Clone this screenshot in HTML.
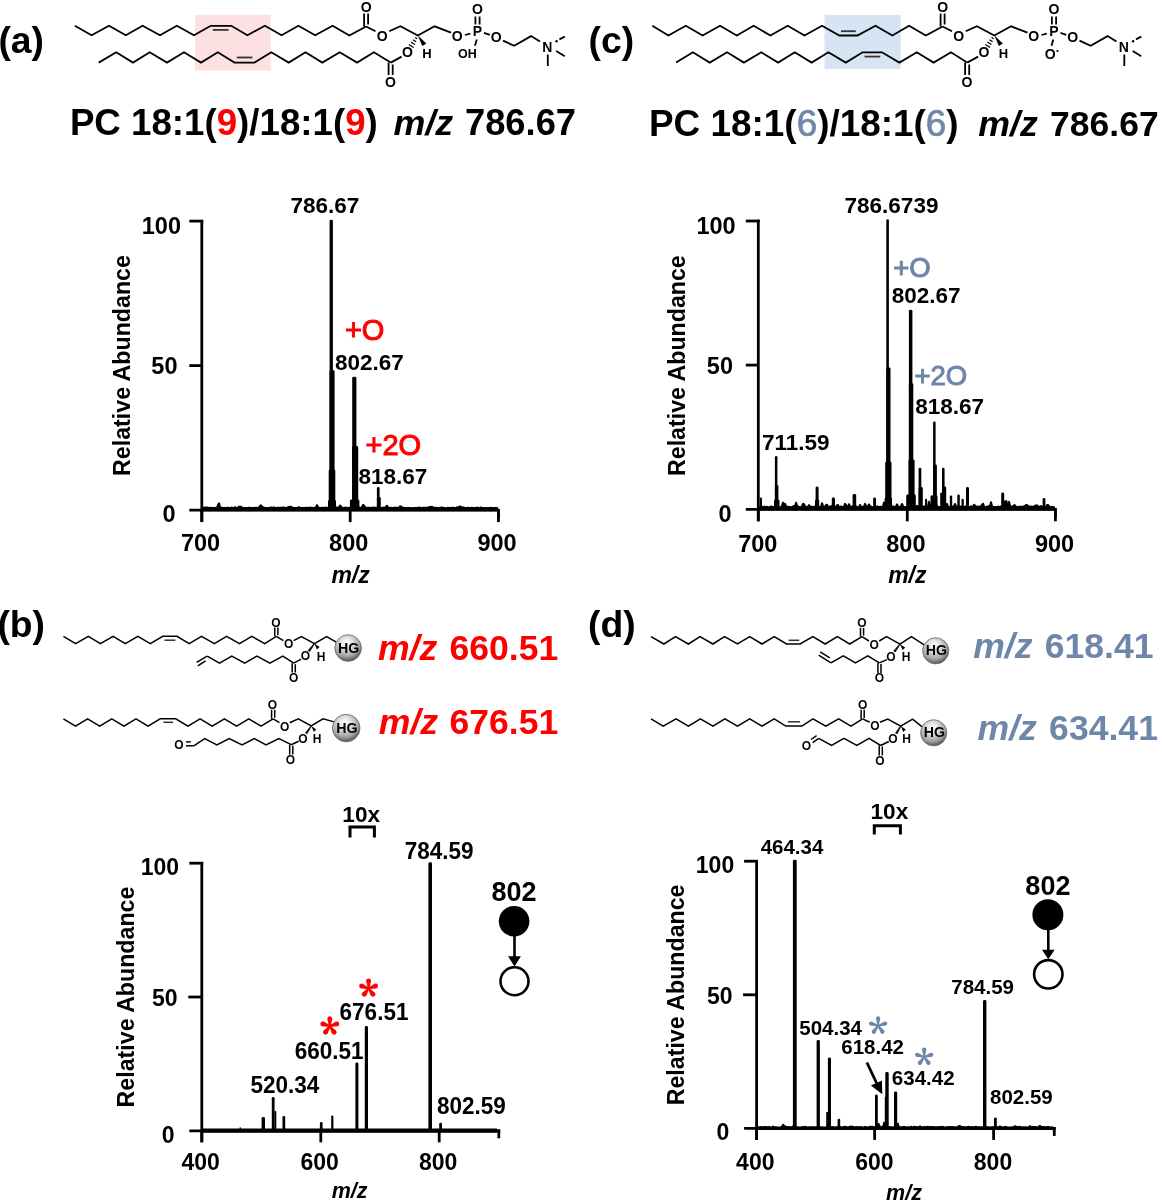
<!DOCTYPE html>
<html><head><meta charset="utf-8"><style>
html,body{margin:0;padding:0;background:#fff;}
svg{display:block;will-change:transform;}
text{font-family:"Liberation Sans",sans-serif;}
</style></head><body>
<svg width="1162" height="1200" viewBox="0 0 1162 1200">
<rect width="1162" height="1200" fill="#fff"/>
<text x="-1.6" y="53.4" font-size="37.3" text-anchor="start" font-weight="bold" font-style="normal" fill="#000" >(a)</text>
<text x="588.5" y="53.4" font-size="37.3" text-anchor="start" font-weight="bold" font-style="normal" fill="#000" >(c)</text>
<text x="-2.6" y="636.7" font-size="37.3" text-anchor="start" font-weight="bold" font-style="normal" fill="#000" >(b)</text>
<text x="588.0" y="636.7" font-size="37.3" text-anchor="start" font-weight="bold" font-style="normal" fill="#000" >(d)</text>
<rect x="195.0" y="14.8" width="75.7" height="55.9" fill="#fde0e1"/>
<polyline points="74.8,25.8 91.6,35.2 109.0,25.8 125.8,35.2 142.6,25.8 160.0,35.2 176.8,25.8 194.0,35.2 210.7,25.8 231.3,25.8 247.4,35.2 264.9,25.8 281.6,35.2 298.4,25.8 315.2,35.2 332.6,25.8 349.4,35.5 366.1,26.5" fill="none" stroke="#000" stroke-width="1.8" stroke-linejoin="miter" stroke-linecap="butt" />
<line x1="212.8" y1="29.9" x2="228.6" y2="29.9" stroke="#3a3232" stroke-width="1.8" stroke-linecap="butt"/>
<polyline points="98.7,62.6 116.2,52.3 133.0,62.6 149.7,52.3 167.0,62.6 184.0,52.3 201.0,62.6 217.8,52.3 234.5,62.6 254.5,62.6 271.3,52.3 288.7,62.6 305.5,52.3 322.3,62.6 339.7,52.3 357.1,62.6 373.9,52.3 390.7,62.6" fill="none" stroke="#000" stroke-width="1.8" stroke-linejoin="miter" stroke-linecap="butt" />
<line x1="236.8" y1="57.5" x2="252.4" y2="57.5" stroke="#3a3232" stroke-width="1.8" stroke-linecap="butt"/>
<line x1="364.1" y1="13.5" x2="364.1" y2="26.5" stroke="#000" stroke-width="1.8" stroke-linecap="butt"/>
<line x1="368.1" y1="13.5" x2="368.1" y2="24.5" stroke="#000" stroke-width="1.8" stroke-linecap="butt"/>
<text x="366.1" y="11.7" font-size="14" text-anchor="middle" font-weight="bold" font-style="normal" fill="#000" >O</text>
<line x1="366.1" y1="26.5" x2="375.5" y2="31.3" stroke="#000" stroke-width="1.8" stroke-linecap="butt"/>
<text x="382.3" y="40.7" font-size="14" text-anchor="middle" font-weight="bold" font-style="normal" fill="#000" >O</text>
<polyline points="389.2,31.3 400.4,26.3 417.8,35.5 434.6,26.3 451.0,32.6" fill="none" stroke="#000" stroke-width="1.8" stroke-linejoin="miter" stroke-linecap="butt" />
<text x="457.1" y="41.2" font-size="14" text-anchor="middle" font-weight="bold" font-style="normal" fill="#000" >O</text>
<line x1="464.9" y1="35.0" x2="470.3" y2="33.6" stroke="#000" stroke-width="1.8" stroke-linecap="butt"/>
<text x="477.4" y="36.2" font-size="14" text-anchor="middle" font-weight="bold" font-style="normal" fill="#000" >P</text>
<line x1="475.4" y1="16.5" x2="475.4" y2="24.5" stroke="#000" stroke-width="1.8" stroke-linecap="butt"/>
<line x1="479.6" y1="16.5" x2="479.6" y2="24.5" stroke="#000" stroke-width="1.8" stroke-linecap="butt"/>
<text x="477.4" y="14.1" font-size="14" text-anchor="middle" font-weight="bold" font-style="normal" fill="#000" >O</text>
<line x1="476.8" y1="39.4" x2="475.0" y2="45.8" stroke="#000" stroke-width="1.8" stroke-linecap="butt"/>
<text x="467.3" y="58.4" font-size="12.5" text-anchor="middle" font-weight="bold" font-style="normal" fill="#000" >OH</text>
<line x1="484.0" y1="32.8" x2="489.8" y2="34.8" stroke="#000" stroke-width="1.8" stroke-linecap="butt"/>
<text x="496.2" y="41.9" font-size="14" text-anchor="middle" font-weight="bold" font-style="normal" fill="#000" >O</text>
<polyline points="503.0,40.6 514.2,45.8 531.0,36.1 540.0,41.6" fill="none" stroke="#000" stroke-width="1.8" stroke-linejoin="miter" stroke-linecap="butt" />
<text x="547.3" y="52.2" font-size="14" text-anchor="middle" font-weight="bold" font-style="normal" fill="#000" >N</text>
<circle cx="556.6" cy="41.3" r="1.2" fill="#000"/>
<line x1="559.4" y1="39.4" x2="564.8" y2="36.6" stroke="#000" stroke-width="1.8" stroke-linecap="butt"/>
<line x1="556.2" y1="51.0" x2="564.8" y2="56.3" stroke="#000" stroke-width="1.8" stroke-linecap="butt"/>
<line x1="547.8" y1="54.5" x2="547.8" y2="66.0" stroke="#000" stroke-width="1.8" stroke-linecap="butt"/>
<polygon points="417.8,35.5 426.4,43.5 422.4,46.1" fill="#000"/>
<text x="427.0" y="57.5" font-size="13" text-anchor="middle" font-weight="bold" font-style="normal" fill="#000" >H</text>
<line x1="417.3" y1="38.8" x2="415.0" y2="37.4" stroke="#000" stroke-width="1.2" stroke-linecap="butt"/>
<line x1="416.1" y1="41.7" x2="413.0" y2="39.7" stroke="#000" stroke-width="1.2" stroke-linecap="butt"/>
<line x1="414.9" y1="44.6" x2="410.9" y2="42.0" stroke="#000" stroke-width="1.2" stroke-linecap="butt"/>
<line x1="413.7" y1="47.4" x2="408.8" y2="44.4" stroke="#000" stroke-width="1.2" stroke-linecap="butt"/>
<text x="407.5" y="57.4" font-size="14" text-anchor="middle" font-weight="bold" font-style="normal" fill="#000" >O</text>
<line x1="401.6" y1="56.6" x2="390.7" y2="62.6" stroke="#000" stroke-width="1.8" stroke-linecap="butt"/>
<line x1="388.6" y1="62.6" x2="388.6" y2="75.0" stroke="#000" stroke-width="1.8" stroke-linecap="butt"/>
<line x1="392.7" y1="64.5" x2="392.7" y2="75.0" stroke="#000" stroke-width="1.8" stroke-linecap="butt"/>
<text x="390.4" y="86.6" font-size="14" text-anchor="middle" font-weight="bold" font-style="normal" fill="#000" >O</text>
<rect x="824.5" y="14.8" width="76.2" height="54.3" fill="#d6e4f3"/>
<polyline points="652.3,25.8 668.4,35.5 685.8,25.8 702.6,35.5 720.0,25.8 736.8,35.5 753.6,25.8 770.4,35.5 787.7,25.8 804.5,35.5 822.0,25.8 839.4,35.5 857.4,35.5 875.5,25.8 892.3,35.5 909.1,25.8 925.8,35.5 942.6,26.5" fill="none" stroke="#000" stroke-width="1.8" stroke-linejoin="miter" stroke-linecap="butt" />
<line x1="841.0" y1="31.2" x2="855.8" y2="31.2" stroke="#3a3232" stroke-width="1.8" stroke-linecap="butt"/>
<polyline points="676.1,62.6 692.9,52.3 709.7,62.6 727.1,52.3 743.9,62.6 761.3,52.3 778.1,62.6 794.8,52.3 811.6,62.6 828.4,52.3 845.8,62.6 862.6,52.3 882.0,52.3 899.4,62.6 916.8,52.3 933.6,62.6 951.0,52.3 967.1,62.6" fill="none" stroke="#000" stroke-width="1.8" stroke-linejoin="miter" stroke-linecap="butt" />
<line x1="864.6" y1="56.6" x2="880.2" y2="56.6" stroke="#3a3232" stroke-width="1.8" stroke-linecap="butt"/>
<line x1="940.6" y1="13.5" x2="940.6" y2="26.5" stroke="#000" stroke-width="1.8" stroke-linecap="butt"/>
<line x1="944.6" y1="13.5" x2="944.6" y2="24.5" stroke="#000" stroke-width="1.8" stroke-linecap="butt"/>
<text x="942.6" y="11.7" font-size="14" text-anchor="middle" font-weight="bold" font-style="normal" fill="#000" >O</text>
<line x1="942.6" y1="26.5" x2="952.0" y2="31.3" stroke="#000" stroke-width="1.8" stroke-linecap="butt"/>
<text x="958.8" y="40.7" font-size="14" text-anchor="middle" font-weight="bold" font-style="normal" fill="#000" >O</text>
<polyline points="965.7,31.3 976.9,26.3 994.3,35.5 1011.1,26.3 1027.5,32.6" fill="none" stroke="#000" stroke-width="1.8" stroke-linejoin="miter" stroke-linecap="butt" />
<text x="1033.6" y="41.2" font-size="14" text-anchor="middle" font-weight="bold" font-style="normal" fill="#000" >O</text>
<line x1="1041.4" y1="35.0" x2="1046.8" y2="33.6" stroke="#000" stroke-width="1.8" stroke-linecap="butt"/>
<text x="1053.9" y="36.2" font-size="14" text-anchor="middle" font-weight="bold" font-style="normal" fill="#000" >P</text>
<line x1="1051.9" y1="16.5" x2="1051.9" y2="24.5" stroke="#000" stroke-width="1.8" stroke-linecap="butt"/>
<line x1="1056.1" y1="16.5" x2="1056.1" y2="24.5" stroke="#000" stroke-width="1.8" stroke-linecap="butt"/>
<text x="1053.9" y="14.1" font-size="14" text-anchor="middle" font-weight="bold" font-style="normal" fill="#000" >O</text>
<line x1="1053.3" y1="39.4" x2="1051.5" y2="45.8" stroke="#000" stroke-width="1.8" stroke-linecap="butt"/>
<text x="1050.3" y="58.7" font-size="14" text-anchor="middle" font-weight="bold" font-style="normal" fill="#000" >O</text>
<circle cx="1057.5" cy="51.0" r="1.1" fill="#000"/>
<line x1="1060.5" y1="32.8" x2="1066.3" y2="34.8" stroke="#000" stroke-width="1.8" stroke-linecap="butt"/>
<text x="1072.7" y="41.9" font-size="14" text-anchor="middle" font-weight="bold" font-style="normal" fill="#000" >O</text>
<polyline points="1079.5,40.6 1090.7,45.8 1107.5,36.1 1116.5,41.6" fill="none" stroke="#000" stroke-width="1.8" stroke-linejoin="miter" stroke-linecap="butt" />
<text x="1123.8" y="52.2" font-size="14" text-anchor="middle" font-weight="bold" font-style="normal" fill="#000" >N</text>
<circle cx="1133.1" cy="41.3" r="1.2" fill="#000"/>
<line x1="1135.9" y1="39.4" x2="1141.3" y2="36.6" stroke="#000" stroke-width="1.8" stroke-linecap="butt"/>
<line x1="1132.7" y1="51.0" x2="1141.3" y2="56.3" stroke="#000" stroke-width="1.8" stroke-linecap="butt"/>
<line x1="1124.3" y1="54.5" x2="1124.3" y2="66.0" stroke="#000" stroke-width="1.8" stroke-linecap="butt"/>
<polygon points="994.3,35.5 1002.9,43.5 998.9,46.1" fill="#000"/>
<text x="1003.5" y="57.5" font-size="13" text-anchor="middle" font-weight="bold" font-style="normal" fill="#000" >H</text>
<line x1="993.8" y1="38.8" x2="991.5" y2="37.4" stroke="#000" stroke-width="1.2" stroke-linecap="butt"/>
<line x1="992.6" y1="41.7" x2="989.5" y2="39.7" stroke="#000" stroke-width="1.2" stroke-linecap="butt"/>
<line x1="991.4" y1="44.6" x2="987.4" y2="42.0" stroke="#000" stroke-width="1.2" stroke-linecap="butt"/>
<line x1="990.2" y1="47.4" x2="985.3" y2="44.4" stroke="#000" stroke-width="1.2" stroke-linecap="butt"/>
<text x="984.0" y="57.4" font-size="14" text-anchor="middle" font-weight="bold" font-style="normal" fill="#000" >O</text>
<line x1="978.1" y1="56.6" x2="967.2" y2="62.6" stroke="#000" stroke-width="1.8" stroke-linecap="butt"/>
<line x1="965.1" y1="62.6" x2="965.1" y2="75.0" stroke="#000" stroke-width="1.8" stroke-linecap="butt"/>
<line x1="969.2" y1="64.5" x2="969.2" y2="75.0" stroke="#000" stroke-width="1.8" stroke-linecap="butt"/>
<text x="966.9" y="86.6" font-size="14" text-anchor="middle" font-weight="bold" font-style="normal" fill="#000" >O</text>
<text x="69.9" y="135.2" font-size="36.7" text-anchor="start" font-weight="bold" font-style="normal" fill="#000" >PC 18:1(<tspan fill="#ff0000">9</tspan>)/18:1(<tspan fill="#ff0000">9</tspan>)</text>
<text x="393.6" y="135.2" font-size="35.8" text-anchor="start" font-weight="bold" font-style="italic" fill="#000" >m/z</text>
<text x="465.0" y="135.2" font-size="36.3" text-anchor="start" font-weight="bold" font-style="normal" fill="#000" >786.67</text>
<text x="649.0" y="136.3" font-size="36.9" text-anchor="start" font-weight="bold" font-style="normal" fill="#000" >PC 18:1(<tspan fill="#6e87a9" font-weight="normal" stroke="#6e87a9" stroke-width="0.7">6</tspan>)/18:1(<tspan fill="#6e87a9" font-weight="normal" stroke="#6e87a9" stroke-width="0.7">6</tspan>)</text>
<text x="978.3" y="136.3" font-size="35.7" text-anchor="start" font-weight="bold" font-style="italic" fill="#000" >m/z</text>
<text x="1050.1" y="136.3" font-size="35.5" text-anchor="start" font-weight="bold" font-style="normal" fill="#000" >786.67</text>
<line x1="201.8" y1="219.9" x2="201.8" y2="522.1" stroke="#000" stroke-width="2.8" stroke-linecap="butt"/>
<line x1="189.3" y1="221.1" x2="203.2" y2="221.1" stroke="#000" stroke-width="2.8" stroke-linecap="butt"/>
<line x1="189.3" y1="365.6" x2="201.8" y2="365.6" stroke="#000" stroke-width="2.8" stroke-linecap="butt"/>
<line x1="189.3" y1="510.1" x2="498.4" y2="510.1" stroke="#000" stroke-width="2.8" stroke-linecap="butt"/>
<line x1="201.8" y1="510.1" x2="201.8" y2="522.1" stroke="#000" stroke-width="2.8" stroke-linecap="butt"/>
<line x1="350.2" y1="510.1" x2="350.2" y2="522.1" stroke="#000" stroke-width="2.8" stroke-linecap="butt"/>
<line x1="498.4" y1="510.1" x2="498.4" y2="522.1" stroke="#000" stroke-width="2.8" stroke-linecap="butt"/>
<line x1="498.4" y1="508.7" x2="498.4" y2="518.1" stroke="#000" stroke-width="2.8" stroke-linecap="butt"/>
<polygon points="202.0,507.8 203.0,507.8 204.0,508.0 205.0,507.4 206.0,508.1 207.0,507.4 208.0,507.8 209.0,508.1 210.0,507.7 211.0,508.0 212.0,508.1 213.0,508.1 214.0,507.9 215.0,508.1 216.0,507.8 217.0,507.9 218.0,505.0 219.0,503.3 220.0,507.4 221.0,507.4 222.0,508.2 223.0,508.0 224.0,508.1 225.0,508.0 226.0,508.1 227.0,508.1 228.0,507.5 229.0,508.2 230.0,508.1 231.0,508.0 232.0,507.5 233.0,508.1 234.0,508.0 235.0,507.3 236.0,507.7 237.0,508.0 238.0,507.6 239.0,506.6 240.0,506.9 241.0,506.6 242.0,507.6 243.0,507.9 244.0,508.0 245.0,508.0 246.0,508.1 247.0,508.1 248.0,508.0 249.0,507.7 250.0,507.7 251.0,508.2 252.0,508.0 253.0,507.9 254.0,508.0 255.0,507.8 256.0,508.0 257.0,507.8 258.0,508.1 259.0,507.5 260.0,506.0 261.0,505.2 262.0,506.8 263.0,507.3 264.0,507.6 265.0,508.1 266.0,507.9 267.0,507.9 268.0,508.1 269.0,508.2 270.0,507.8 271.0,507.4 272.0,508.0 273.0,507.6 274.0,507.4 275.0,507.8 276.0,508.0 277.0,507.9 278.0,507.6 279.0,508.1 280.0,507.7 281.0,507.8 282.0,508.0 283.0,507.5 284.0,507.4 285.0,508.0 286.0,507.9 287.0,507.9 288.0,507.2 289.0,506.9 290.0,506.8 291.0,506.7 292.0,507.5 293.0,508.0 294.0,508.1 295.0,508.0 296.0,508.0 297.0,508.1 298.0,507.8 299.0,507.1 300.0,508.1 301.0,508.1 302.0,507.8 303.0,508.2 304.0,508.0 305.0,508.1 306.0,507.7 307.0,507.8 308.0,507.8 309.0,508.1 310.0,507.5 311.0,507.9 312.0,507.8 313.0,508.1 314.0,508.1 315.0,508.0 316.0,507.1 317.0,505.1 318.0,507.1 319.0,507.7 320.0,507.9 321.0,508.0 322.0,507.8 323.0,507.7 324.0,508.1 325.0,507.8 326.0,507.5 327.0,508.2 328.0,507.8 329.0,508.1 330.0,507.6 331.0,508.2 332.0,507.9 333.0,508.2 334.0,508.0 335.0,508.1 336.0,507.5 337.0,507.5 338.0,507.7 339.0,507.7 340.0,505.5 341.0,506.2 342.0,507.7 343.0,508.0 344.0,508.1 345.0,507.5 346.0,507.8 347.0,507.7 348.0,508.1 349.0,507.7 350.0,507.9 351.0,507.7 352.0,507.8 353.0,507.8 354.0,508.1 355.0,507.8 356.0,508.1 357.0,507.7 358.0,508.0 359.0,507.4 360.0,507.9 361.0,507.8 362.0,507.2 363.0,504.9 364.0,505.5 365.0,507.4 366.0,507.6 367.0,508.1 368.0,507.8 369.0,507.7 370.0,507.9 371.0,507.8 372.0,508.1 373.0,507.5 374.0,507.8 375.0,507.7 376.0,507.8 377.0,507.8 378.0,507.3 379.0,508.1 380.0,507.8 381.0,508.2 382.0,507.9 383.0,507.6 384.0,507.8 385.0,507.8 386.0,506.7 387.0,505.7 388.0,507.4 389.0,507.9 390.0,508.1 391.0,507.7 392.0,508.0 393.0,507.9 394.0,507.8 395.0,507.8 396.0,507.8 397.0,507.8 398.0,508.0 399.0,507.9 400.0,506.3 401.0,506.4 402.0,507.6 403.0,507.6 404.0,508.1 405.0,508.1 406.0,508.0 407.0,508.2 408.0,508.0 409.0,508.1 410.0,508.1 411.0,508.0 412.0,508.2 413.0,508.1 414.0,507.9 415.0,508.1 416.0,507.8 417.0,507.9 418.0,508.1 419.0,507.4 420.0,507.8 421.0,508.2 422.0,508.1 423.0,507.8 424.0,507.7 425.0,507.7 426.0,508.0 427.0,507.8 428.0,507.4 429.0,507.2 430.0,506.9 431.0,507.2 432.0,506.8 433.0,507.4 434.0,507.9 435.0,507.8 436.0,508.0 437.0,507.7 438.0,508.1 439.0,508.1 440.0,507.8 441.0,507.9 442.0,507.3 443.0,508.0 444.0,507.9 445.0,508.0 446.0,508.2 447.0,508.2 448.0,507.8 449.0,507.9 450.0,508.1 451.0,508.1 452.0,507.7 453.0,507.7 454.0,507.9 455.0,507.9 456.0,508.0 457.0,507.5 458.0,507.2 459.0,507.2 460.0,506.4 461.0,507.1 462.0,507.3 463.0,507.7 464.0,507.6 465.0,508.1 466.0,507.9 467.0,508.0 468.0,507.8 469.0,508.2 470.0,508.1 471.0,507.8 472.0,507.8 473.0,507.9 474.0,507.9 475.0,508.1 476.0,508.1 477.0,507.6 478.0,507.8 479.0,508.2 480.0,508.1 481.0,507.4 482.0,508.1 483.0,507.9 484.0,508.2 485.0,508.0 486.0,507.9 487.0,508.2 488.0,507.9 489.0,508.0 490.0,507.9 491.0,507.8 492.0,508.2 493.0,508.0 494.0,508.2 495.0,507.9 496.0,507.9 497.0,508.1 497.0,510.2 202.0,510.2" fill="#000" stroke="#000" stroke-width="2.0" stroke-linejoin="round"/>
<rect x="329.60" y="219.70" width="3.30" height="289.30" rx="1.40" fill="#000"/>
<rect x="329.50" y="370.20" width="5.10" height="138.80" rx="1.40" fill="#000"/>
<rect x="328.70" y="469.40" width="6.60" height="39.60" rx="1.40" fill="#000"/>
<rect x="328.00" y="500.00" width="8.00" height="9.00" rx="1.40" fill="#000"/>
<rect x="352.20" y="376.80" width="4.20" height="132.20" rx="1.40" fill="#000"/>
<rect x="352.10" y="446.10" width="6.10" height="62.90" rx="1.40" fill="#000"/>
<rect x="349.90" y="499.60" width="9.50" height="9.40" rx="1.40" fill="#000"/>
<rect x="376.90" y="486.90" width="2.70" height="22.10" rx="1.35" fill="#000"/>
<rect x="376.90" y="496.90" width="3.90" height="12.10" rx="1.40" fill="#000"/>
<text x="181.0" y="234.0" font-size="23.5" text-anchor="end" font-weight="bold" font-style="normal" fill="#000" >100</text>
<text x="177.5" y="374.0" font-size="23.5" text-anchor="end" font-weight="bold" font-style="normal" fill="#000" >50</text>
<text x="175.6" y="521.5" font-size="23.5" text-anchor="end" font-weight="bold" font-style="normal" fill="#000" >0</text>
<text x="200.5" y="550.5" font-size="23.5" text-anchor="middle" font-weight="bold" font-style="normal" fill="#000" >700</text>
<text x="348.7" y="550.5" font-size="23.5" text-anchor="middle" font-weight="bold" font-style="normal" fill="#000" >800</text>
<text x="497.0" y="550.5" font-size="23.5" text-anchor="middle" font-weight="bold" font-style="normal" fill="#000" >900</text>
<text x="350.6" y="583.0" font-size="23" text-anchor="middle" font-weight="bold" font-style="italic" fill="#000" >m/z</text>
<text x="129.6" y="365.5" font-size="23.2" font-weight="bold" text-anchor="middle" transform="rotate(-90 129.6 365.5)">Relative Abundance</text>
<text x="324.9" y="212.8" font-size="22.5" text-anchor="middle" font-weight="bold" font-style="normal" fill="#000" >786.67</text>
<text x="369.4" y="370.0" font-size="22.5" text-anchor="middle" font-weight="bold" font-style="normal" fill="#000" >802.67</text>
<text x="392.8" y="484.4" font-size="22.5" text-anchor="middle" font-weight="bold" font-style="normal" fill="#000" >818.67</text>
<text x="364.7" y="340.0" font-size="29" text-anchor="middle" font-weight="normal" font-style="normal" fill="#ff0000" stroke="#ff0000" stroke-width="1.0">+O</text>
<text x="393.3" y="454.6" font-size="29" text-anchor="middle" font-weight="normal" font-style="normal" fill="#ff0000" stroke="#ff0000" stroke-width="1.0">+2O</text>
<line x1="758.3" y1="219.8" x2="758.3" y2="521.3" stroke="#000" stroke-width="2.8" stroke-linecap="butt"/>
<line x1="745.8" y1="221.0" x2="759.7" y2="221.0" stroke="#000" stroke-width="2.8" stroke-linecap="butt"/>
<line x1="745.8" y1="365.1" x2="758.3" y2="365.1" stroke="#000" stroke-width="2.8" stroke-linecap="butt"/>
<line x1="745.8" y1="509.3" x2="1055.4" y2="509.3" stroke="#000" stroke-width="2.8" stroke-linecap="butt"/>
<line x1="758.3" y1="509.3" x2="758.3" y2="521.3" stroke="#000" stroke-width="2.8" stroke-linecap="butt"/>
<line x1="907.3" y1="509.3" x2="907.3" y2="521.3" stroke="#000" stroke-width="2.8" stroke-linecap="butt"/>
<line x1="1055.4" y1="509.3" x2="1055.4" y2="521.3" stroke="#000" stroke-width="2.8" stroke-linecap="butt"/>
<line x1="1055.4" y1="507.9" x2="1055.4" y2="517.3" stroke="#000" stroke-width="2.8" stroke-linecap="butt"/>
<polygon points="759.0,507.2 760.0,507.1 761.0,507.3 762.0,507.2 763.0,506.8 764.0,507.3 765.0,506.7 766.0,507.1 767.0,506.8 768.0,507.3 769.0,507.2 770.0,507.3 771.0,506.4 772.0,506.9 773.0,507.1 774.0,507.1 775.0,506.4 776.0,506.4 777.0,506.9 778.0,507.1 779.0,507.2 780.0,507.4 781.0,507.1 782.0,505.7 783.0,502.6 784.0,505.4 785.0,503.7 786.0,506.2 787.0,507.1 788.0,506.7 789.0,507.0 790.0,507.0 791.0,507.2 792.0,507.3 793.0,506.5 794.0,506.0 795.0,506.9 796.0,502.7 797.0,505.2 798.0,506.7 799.0,506.9 800.0,507.3 801.0,507.1 802.0,506.4 803.0,503.8 804.0,504.2 805.0,506.2 806.0,507.2 807.0,507.3 808.0,506.6 809.0,505.1 810.0,507.1 811.0,506.5 812.0,506.9 813.0,507.0 814.0,506.8 815.0,506.5 816.0,507.2 817.0,507.3 818.0,506.6 819.0,507.0 820.0,507.0 821.0,506.8 822.0,503.2 823.0,506.1 824.0,507.1 825.0,506.6 826.0,505.0 827.0,504.7 828.0,507.2 829.0,506.5 830.0,507.1 831.0,506.3 832.0,505.9 833.0,507.2 834.0,507.0 835.0,506.7 836.0,506.8 837.0,505.3 838.0,505.1 839.0,507.2 840.0,507.1 841.0,506.4 842.0,507.0 843.0,507.1 844.0,507.0 845.0,503.9 846.0,505.0 847.0,506.8 848.0,506.8 849.0,504.2 850.0,506.8 851.0,506.9 852.0,506.3 853.0,507.3 854.0,506.8 855.0,506.6 856.0,506.4 857.0,507.1 858.0,507.3 859.0,506.9 860.0,505.0 861.0,507.1 862.0,506.7 863.0,507.0 864.0,507.1 865.0,503.9 866.0,505.5 867.0,506.8 868.0,506.6 869.0,504.5 870.0,506.9 871.0,506.6 872.0,507.3 873.0,507.3 874.0,507.2 875.0,506.6 876.0,506.8 877.0,506.6 878.0,506.6 879.0,506.9 880.0,507.0 881.0,506.7 882.0,506.9 883.0,506.4 884.0,502.4 885.0,505.9 886.0,507.0 887.0,507.3 888.0,507.2 889.0,507.1 890.0,507.4 891.0,506.9 892.0,507.1 893.0,506.2 894.0,507.2 895.0,507.1 896.0,506.5 897.0,504.4 898.0,506.2 899.0,507.2 900.0,507.2 901.0,506.1 902.0,504.0 903.0,506.0 904.0,507.2 905.0,507.2 906.0,507.3 907.0,507.1 908.0,507.0 909.0,507.2 910.0,507.1 911.0,505.9 912.0,507.2 913.0,507.1 914.0,507.3 915.0,507.3 916.0,507.4 917.0,505.8 918.0,507.1 919.0,506.8 920.0,506.7 921.0,507.4 922.0,506.8 923.0,506.9 924.0,506.5 925.0,506.4 926.0,507.2 927.0,507.2 928.0,506.4 929.0,501.7 930.0,505.1 931.0,506.7 932.0,506.5 933.0,507.0 934.0,506.5 935.0,506.8 936.0,502.7 937.0,506.8 938.0,507.3 939.0,506.9 940.0,507.3 941.0,507.3 942.0,506.5 943.0,506.8 944.0,507.2 945.0,505.8 946.0,506.3 947.0,503.9 948.0,506.9 949.0,507.3 950.0,507.0 951.0,507.3 952.0,507.0 953.0,506.5 954.0,506.1 955.0,504.0 956.0,506.4 957.0,506.8 958.0,506.5 959.0,506.6 960.0,507.0 961.0,506.5 962.0,506.8 963.0,507.4 964.0,506.7 965.0,506.9 966.0,506.4 967.0,506.9 968.0,506.5 969.0,506.8 970.0,507.3 971.0,506.2 972.0,506.6 973.0,507.2 974.0,504.7 975.0,505.5 976.0,507.1 977.0,506.5 978.0,506.8 979.0,506.7 980.0,506.5 981.0,506.4 982.0,504.7 983.0,503.7 984.0,506.4 985.0,507.3 986.0,507.3 987.0,506.5 988.0,507.2 989.0,506.0 990.0,505.7 991.0,502.3 992.0,506.0 993.0,507.2 994.0,507.0 995.0,507.4 996.0,506.9 997.0,507.4 998.0,506.6 999.0,507.4 1000.0,506.8 1001.0,506.5 1002.0,506.4 1003.0,507.0 1004.0,506.9 1005.0,506.3 1006.0,506.7 1007.0,505.7 1008.0,503.6 1009.0,501.8 1010.0,505.6 1011.0,507.1 1012.0,507.3 1013.0,506.0 1014.0,505.3 1015.0,505.3 1016.0,507.2 1017.0,507.1 1018.0,506.8 1019.0,507.3 1020.0,506.6 1021.0,507.1 1022.0,506.8 1023.0,506.4 1024.0,506.9 1025.0,506.1 1026.0,504.9 1027.0,505.0 1028.0,505.7 1029.0,507.1 1030.0,506.7 1031.0,506.5 1032.0,507.0 1033.0,506.7 1034.0,506.5 1035.0,505.7 1036.0,505.4 1037.0,505.3 1038.0,506.8 1039.0,506.5 1040.0,507.2 1041.0,506.0 1042.0,507.2 1043.0,507.0 1044.0,506.2 1045.0,507.0 1046.0,507.1 1047.0,505.1 1048.0,504.9 1049.0,506.2 1050.0,507.0 1051.0,506.9 1052.0,507.0 1053.0,507.0 1054.0,507.2 1054.0,509.4 759.0,509.4" fill="#000" stroke="#000" stroke-width="2.0" stroke-linejoin="round"/>
<rect x="774.90" y="456.10" width="2.50" height="52.40" rx="1.25" fill="#000"/>
<rect x="774.90" y="485.10" width="3.50" height="23.40" rx="1.40" fill="#000"/>
<rect x="774.00" y="499.60" width="5.50" height="8.90" rx="1.40" fill="#000"/>
<rect x="886.30" y="219.30" width="2.60" height="289.20" rx="1.30" fill="#000"/>
<rect x="886.30" y="367.50" width="4.20" height="141.00" rx="1.40" fill="#000"/>
<rect x="885.20" y="461.60" width="6.30" height="46.90" rx="1.40" fill="#000"/>
<rect x="884.60" y="497.60" width="7.40" height="10.90" rx="1.40" fill="#000"/>
<rect x="908.90" y="309.80" width="3.50" height="198.70" rx="1.40" fill="#000"/>
<rect x="908.90" y="383.20" width="4.40" height="125.30" rx="1.40" fill="#000"/>
<rect x="908.50" y="459.60" width="6.10" height="48.90" rx="1.40" fill="#000"/>
<rect x="906.20" y="494.60" width="9.60" height="13.90" rx="1.40" fill="#000"/>
<rect x="933.10" y="421.40" width="2.50" height="87.10" rx="1.25" fill="#000"/>
<rect x="933.10" y="464.40" width="3.80" height="44.10" rx="1.40" fill="#000"/>
<rect x="931.00" y="495.40" width="6.50" height="13.10" rx="1.40" fill="#000"/>
<rect x="918.60" y="467.80" width="2.70" height="40.70" rx="1.35" fill="#000"/>
<rect x="918.60" y="487.10" width="4.20" height="21.40" rx="1.40" fill="#000"/>
<rect x="942.00" y="467.80" width="2.60" height="40.70" rx="1.30" fill="#000"/>
<rect x="942.00" y="486.40" width="4.20" height="22.10" rx="1.40" fill="#000"/>
<rect x="815.60" y="486.60" width="3.00" height="21.90" rx="1.40" fill="#000"/>
<rect x="815.00" y="499.60" width="4.20" height="8.90" rx="1.40" fill="#000"/>
<rect x="759.80" y="497.40" width="2.20" height="11.10" rx="1.10" fill="#000"/>
<rect x="831.80" y="497.40" width="3.20" height="11.10" rx="1.40" fill="#000"/>
<rect x="852.60" y="494.10" width="3.60" height="14.40" rx="1.40" fill="#000"/>
<rect x="873.20" y="497.40" width="2.80" height="11.10" rx="1.40" fill="#000"/>
<rect x="966.00" y="487.10" width="3.00" height="21.40" rx="1.40" fill="#000"/>
<rect x="1001.20" y="492.60" width="3.00" height="15.90" rx="1.40" fill="#000"/>
<rect x="1004.00" y="500.20" width="3.50" height="8.30" rx="1.40" fill="#000"/>
<rect x="1042.60" y="498.10" width="2.80" height="10.40" rx="1.40" fill="#000"/>
<rect x="957.30" y="494.60" width="2.50" height="13.90" rx="1.25" fill="#000"/>
<rect x="949.80" y="495.40" width="2.40" height="13.10" rx="1.20" fill="#000"/>
<rect x="940.20" y="492.60" width="2.00" height="15.90" rx="1.00" fill="#000"/>
<rect x="925.00" y="498.80" width="2.20" height="9.70" rx="1.10" fill="#000"/>
<rect x="930.50" y="495.40" width="2.60" height="13.10" rx="1.30" fill="#000"/>
<rect x="961.50" y="498.80" width="2.30" height="9.70" rx="1.15" fill="#000"/>
<text x="735.7" y="233.8" font-size="23.5" text-anchor="end" font-weight="bold" font-style="normal" fill="#000" >100</text>
<text x="733.0" y="373.5" font-size="23.5" text-anchor="end" font-weight="bold" font-style="normal" fill="#000" >50</text>
<text x="731.5" y="521.5" font-size="23.5" text-anchor="end" font-weight="bold" font-style="normal" fill="#000" >0</text>
<text x="757.8" y="552.0" font-size="23.5" text-anchor="middle" font-weight="bold" font-style="normal" fill="#000" >700</text>
<text x="905.9" y="552.0" font-size="23.5" text-anchor="middle" font-weight="bold" font-style="normal" fill="#000" >800</text>
<text x="1054.5" y="552.0" font-size="23.5" text-anchor="middle" font-weight="bold" font-style="normal" fill="#000" >900</text>
<text x="907.3" y="583.3" font-size="23" text-anchor="middle" font-weight="bold" font-style="italic" fill="#000" >m/z</text>
<text x="684.9" y="365.6" font-size="23.2" font-weight="bold" text-anchor="middle" transform="rotate(-90 684.9 365.6)">Relative Abundance</text>
<text x="891.5" y="212.7" font-size="22.5" text-anchor="middle" font-weight="bold" font-style="normal" fill="#000" >786.6739</text>
<text x="926.2" y="302.7" font-size="22.5" text-anchor="middle" font-weight="bold" font-style="normal" fill="#000" >802.67</text>
<text x="949.6" y="414.3" font-size="22.5" text-anchor="middle" font-weight="bold" font-style="normal" fill="#000" >818.67</text>
<text x="795.8" y="450.2" font-size="22.5" text-anchor="middle" font-weight="bold" font-style="normal" fill="#000" >711.59</text>
<text x="912.0" y="277.3" font-size="27.5" text-anchor="middle" font-weight="normal" font-style="normal" fill="#6e87a9" stroke="#6e87a9" stroke-width="1.0">+O</text>
<text x="940.8" y="385.3" font-size="27.5" text-anchor="middle" font-weight="normal" font-style="normal" fill="#6e87a9" stroke="#6e87a9" stroke-width="1.0">+2O</text>
<defs><radialGradient id="hg" cx="0.45" cy="0.35" r="0.62" fx="0.45" fy="0.3"><stop offset="0" stop-color="#ffffff"/><stop offset="0.35" stop-color="#e2e2e2"/><stop offset="0.78" stop-color="#a2a2a2"/><stop offset="1" stop-color="#606060"/></radialGradient></defs>
<polyline points="63.4,636.3 75.7,643.6 88.3,636.3 100.4,643.6 113.1,636.3 125.3,643.6 137.9,636.3 150.3,643.6 162.8,636.3 177.0,636.3 189.2,643.6 201.5,636.3 214.4,643.6 226.6,636.3 239.5,643.6 251.8,636.3 264.7,643.6 276.3,636.3" fill="none" stroke="#000" stroke-width="1.5" stroke-linejoin="miter" stroke-linecap="butt" />
<line x1="164.4" y1="640.2" x2="175.4" y2="640.2" stroke="#333" stroke-width="1.5" stroke-linecap="butt"/>
<line x1="274.8" y1="636.3" x2="274.8" y2="627.6" stroke="#000" stroke-width="1.5" stroke-linecap="butt"/>
<line x1="277.9" y1="635.3" x2="277.9" y2="627.6" stroke="#000" stroke-width="1.5" stroke-linecap="butt"/>
<text x="276.0" y="626.8" font-size="12" text-anchor="middle" font-weight="bold" font-style="normal" fill="#000" >O</text>
<line x1="276.3" y1="636.3" x2="283.4" y2="640.6" stroke="#000" stroke-width="1.5" stroke-linecap="butt"/>
<polyline points="293.6,640.6 301.5,636.6 314.4,643.6 326.6,636.6 336.3,642.1" fill="none" stroke="#000" stroke-width="1.5" stroke-linejoin="miter" stroke-linecap="butt" />
<text x="288.6" y="648.4" font-size="12" text-anchor="middle" font-weight="bold" font-style="normal" fill="#000" >O</text>
<circle cx="348.1" cy="648.0" r="13.3" fill="url(#hg)" stroke="#6a6a6a" stroke-width="0.8"/>
<text x="348.7" y="652.5" font-size="14.2" text-anchor="middle" font-weight="bold" font-style="normal" fill="#000" >HG</text>
<polygon points="314.4,643.6 319.6,647.0 317.0,649.4" fill="#000"/>
<text x="321.0" y="660.5" font-size="12" text-anchor="middle" font-weight="bold" font-style="normal" fill="#000" >H</text>
<polygon points="313.92,643.24 307.65,650.56 309.74,652.10 314.88,643.96" fill="#111"/>
<text x="305.4" y="660.4" font-size="12" text-anchor="middle" font-weight="bold" font-style="normal" fill="#000" >O</text>
<line x1="301.2" y1="659.2" x2="293.7" y2="663.2" stroke="#000" stroke-width="1.5" stroke-linecap="butt"/>
<line x1="292.2" y1="663.2" x2="292.2" y2="672.5" stroke="#000" stroke-width="1.5" stroke-linecap="butt"/>
<line x1="295.3" y1="664.2" x2="295.3" y2="672.5" stroke="#000" stroke-width="1.5" stroke-linecap="butt"/>
<text x="293.7" y="681.7" font-size="12" text-anchor="middle" font-weight="bold" font-style="normal" fill="#000" >O</text>
<polyline points="293.7,663.2 282.8,656.1 269.9,663.2 257.0,656.1 244.7,663.2 231.8,656.1 219.5,663.2 207.3,656.1" fill="none" stroke="#000" stroke-width="1.5" stroke-linejoin="miter" stroke-linecap="butt" />
<line x1="207.3" y1="656.1" x2="196.6" y2="662.4" stroke="#000" stroke-width="1.5" stroke-linecap="butt"/>
<line x1="205.6" y1="660.9" x2="197.8" y2="665.9" stroke="#000" stroke-width="1.5" stroke-linecap="butt"/>
<polyline points="63.4,718.8 75.5,726.1 87.6,718.8 99.7,726.1 111.8,718.8 123.9,726.1 136.0,718.8 148.1,726.1 160.2,718.8 175.7,718.8 187.9,726.1 200.1,718.8 212.2,726.1 224.4,718.8 236.6,726.1 248.8,718.8 261.0,726.1 273.1,718.8" fill="none" stroke="#000" stroke-width="1.5" stroke-linejoin="miter" stroke-linecap="butt" />
<line x1="163.4" y1="722.3" x2="173.1" y2="722.3" stroke="#333" stroke-width="1.5" stroke-linecap="butt"/>
<line x1="271.6" y1="718.8" x2="271.6" y2="709.7" stroke="#000" stroke-width="1.5" stroke-linecap="butt"/>
<line x1="274.7" y1="717.8" x2="274.7" y2="709.7" stroke="#000" stroke-width="1.5" stroke-linecap="butt"/>
<text x="272.5" y="708.9" font-size="12" text-anchor="middle" font-weight="bold" font-style="normal" fill="#000" >O</text>
<line x1="273.1" y1="718.8" x2="279.5" y2="722.7" stroke="#000" stroke-width="1.5" stroke-linecap="butt"/>
<polyline points="289.7,722.7 298.3,718.9 311.2,726.0 323.0,718.9 334.1,721.9" fill="none" stroke="#000" stroke-width="1.5" stroke-linejoin="miter" stroke-linecap="butt" />
<text x="284.7" y="730.5" font-size="12" text-anchor="middle" font-weight="bold" font-style="normal" fill="#000" >O</text>
<circle cx="346.2" cy="728.1" r="13.8" fill="url(#hg)" stroke="#6a6a6a" stroke-width="0.8"/>
<text x="346.8" y="732.6" font-size="14.2" text-anchor="middle" font-weight="bold" font-style="normal" fill="#000" >HG</text>
<polygon points="311.2,726.0 316.4,729.4 313.8,731.8" fill="#000"/>
<text x="317.0" y="742.8" font-size="12" text-anchor="middle" font-weight="bold" font-style="normal" fill="#000" >H</text>
<polygon points="310.71,725.66 304.98,732.71 307.12,734.19 311.69,726.34" fill="#111"/>
<text x="302.8" y="742.5" font-size="12" text-anchor="middle" font-weight="bold" font-style="normal" fill="#000" >O</text>
<line x1="298.6" y1="741.3" x2="291.2" y2="744.7" stroke="#000" stroke-width="1.5" stroke-linecap="butt"/>
<line x1="289.7" y1="744.7" x2="289.7" y2="754.6" stroke="#000" stroke-width="1.5" stroke-linecap="butt"/>
<line x1="292.8" y1="745.7" x2="292.8" y2="754.6" stroke="#000" stroke-width="1.5" stroke-linecap="butt"/>
<text x="290.5" y="763.8" font-size="12" text-anchor="middle" font-weight="bold" font-style="normal" fill="#000" >O</text>
<polyline points="291.2,744.7 278.9,738.6 266.0,745.0 254.4,738.6 242.1,745.0 229.2,738.6 216.9,745.0 204.7,738.6 193.8,745.8" fill="none" stroke="#000" stroke-width="1.5" stroke-linejoin="miter" stroke-linecap="butt" />
<line x1="193.8" y1="745.8" x2="186.0" y2="745.8" stroke="#000" stroke-width="1.5" stroke-linecap="butt"/>
<line x1="190.8" y1="741.9" x2="186.0" y2="741.9" stroke="#000" stroke-width="1.5" stroke-linecap="butt"/>
<text x="178.9" y="748.5" font-size="12" text-anchor="middle" font-weight="bold" font-style="normal" fill="#000" >O</text>
<polyline points="651.0,636.6 663.9,644.0 675.5,636.6 688.4,644.0 700.0,636.6 712.9,644.0 724.5,636.6 737.5,644.0 749.7,636.6 762.0,644.0 774.2,636.6 786.5,644.0 800.0,644.0 812.9,636.6 825.2,644.0 837.4,636.6 849.7,644.0 862.0,636.6" fill="none" stroke="#000" stroke-width="1.5" stroke-linejoin="miter" stroke-linecap="butt" />
<line x1="788.6" y1="640.3" x2="799.2" y2="640.3" stroke="#333" stroke-width="1.5" stroke-linecap="butt"/>
<line x1="860.5" y1="636.6" x2="860.5" y2="627.9" stroke="#000" stroke-width="1.5" stroke-linecap="butt"/>
<line x1="863.6" y1="635.6" x2="863.6" y2="627.9" stroke="#000" stroke-width="1.5" stroke-linecap="butt"/>
<text x="862.0" y="627.1" font-size="12" text-anchor="middle" font-weight="bold" font-style="normal" fill="#000" >O</text>
<line x1="862.0" y1="636.6" x2="869.0" y2="641.0" stroke="#000" stroke-width="1.5" stroke-linecap="butt"/>
<polyline points="879.2,641.0 886.5,636.6 900.0,644.2 911.4,636.6 924.2,644.9" fill="none" stroke="#000" stroke-width="1.5" stroke-linejoin="miter" stroke-linecap="butt" />
<text x="874.2" y="648.8" font-size="12" text-anchor="middle" font-weight="bold" font-style="normal" fill="#000" >O</text>
<circle cx="935.7" cy="650.8" r="13.1" fill="url(#hg)" stroke="#6a6a6a" stroke-width="0.8"/>
<text x="936.3" y="655.3" font-size="14.2" text-anchor="middle" font-weight="bold" font-style="normal" fill="#000" >HG</text>
<polygon points="900.0,644.2 905.2,647.6 902.6,650.0" fill="#000"/>
<text x="906.0" y="661.4" font-size="12" text-anchor="middle" font-weight="bold" font-style="normal" fill="#000" >H</text>
<polygon points="899.52,643.84 893.26,650.96 895.33,652.53 900.48,644.56" fill="#111"/>
<text x="891.0" y="660.8" font-size="12" text-anchor="middle" font-weight="bold" font-style="normal" fill="#000" >O</text>
<line x1="886.8" y1="659.6" x2="879.4" y2="662.9" stroke="#000" stroke-width="1.5" stroke-linecap="butt"/>
<line x1="877.9" y1="662.9" x2="877.9" y2="672.9" stroke="#000" stroke-width="1.5" stroke-linecap="butt"/>
<line x1="881.0" y1="663.9" x2="881.0" y2="672.9" stroke="#000" stroke-width="1.5" stroke-linecap="butt"/>
<text x="879.4" y="682.1" font-size="12" text-anchor="middle" font-weight="bold" font-style="normal" fill="#000" >O</text>
<polyline points="879.4,662.9 867.8,655.8 855.5,662.9 843.3,655.8 831.0,662.9" fill="none" stroke="#000" stroke-width="1.5" stroke-linejoin="miter" stroke-linecap="butt" />
<line x1="818.7" y1="655.2" x2="831.0" y2="662.9" stroke="#000" stroke-width="1.5" stroke-linecap="butt"/>
<line x1="820.2" y1="651.9" x2="829.8" y2="657.9" stroke="#000" stroke-width="1.5" stroke-linecap="butt"/>
<polyline points="651.0,718.9 663.2,726.1 676.1,718.9 688.4,726.1 700.4,718.9 712.9,726.1 724.9,718.9 737.5,726.1 749.7,718.9 762.0,726.1 774.2,718.9 785.8,726.1 801.9,726.1 812.9,718.9 825.8,726.1 838.7,718.9 851.0,726.1 862.6,718.9" fill="none" stroke="#000" stroke-width="1.5" stroke-linejoin="miter" stroke-linecap="butt" />
<line x1="787.9" y1="721.8" x2="800.0" y2="721.8" stroke="#333" stroke-width="1.5" stroke-linecap="butt"/>
<line x1="861.1" y1="718.9" x2="861.1" y2="709.8" stroke="#000" stroke-width="1.5" stroke-linecap="butt"/>
<line x1="864.2" y1="717.9" x2="864.2" y2="709.8" stroke="#000" stroke-width="1.5" stroke-linecap="butt"/>
<text x="862.6" y="709.0" font-size="12" text-anchor="middle" font-weight="bold" font-style="normal" fill="#000" >O</text>
<line x1="862.6" y1="718.9" x2="869.7" y2="722.3" stroke="#000" stroke-width="1.5" stroke-linecap="butt"/>
<polyline points="879.9,722.3 887.8,719.0 900.7,726.1 912.6,719.1 922.2,726.9" fill="none" stroke="#000" stroke-width="1.5" stroke-linejoin="miter" stroke-linecap="butt" />
<text x="874.9" y="730.1" font-size="12" text-anchor="middle" font-weight="bold" font-style="normal" fill="#000" >O</text>
<circle cx="933.7" cy="732.8" r="13.1" fill="url(#hg)" stroke="#6a6a6a" stroke-width="0.8"/>
<text x="934.3" y="737.3" font-size="14.2" text-anchor="middle" font-weight="bold" font-style="normal" fill="#000" >HG</text>
<polygon points="900.7,726.1 905.9,729.5 903.3,731.9" fill="#000"/>
<text x="906.6" y="742.8" font-size="12" text-anchor="middle" font-weight="bold" font-style="normal" fill="#000" >H</text>
<polygon points="900.18,725.79 895.08,732.98 897.31,734.31 901.22,726.41" fill="#111"/>
<text x="893.0" y="742.7" font-size="12" text-anchor="middle" font-weight="bold" font-style="normal" fill="#000" >O</text>
<line x1="888.8" y1="741.5" x2="880.7" y2="745.5" stroke="#000" stroke-width="1.5" stroke-linecap="butt"/>
<line x1="879.2" y1="745.5" x2="879.2" y2="755.4" stroke="#000" stroke-width="1.5" stroke-linecap="butt"/>
<line x1="882.3" y1="746.5" x2="882.3" y2="755.4" stroke="#000" stroke-width="1.5" stroke-linecap="butt"/>
<text x="880.0" y="764.6" font-size="12" text-anchor="middle" font-weight="bold" font-style="normal" fill="#000" >O</text>
<polyline points="880.7,745.5 869.1,738.4 856.8,745.5 843.9,738.4 831.6,745.5 818.7,738.4" fill="none" stroke="#000" stroke-width="1.5" stroke-linejoin="miter" stroke-linecap="butt" />
<line x1="818.7" y1="738.4" x2="812.6" y2="742.6" stroke="#000" stroke-width="1.5" stroke-linecap="butt"/>
<line x1="816.6" y1="735.6" x2="811.0" y2="739.5" stroke="#000" stroke-width="1.5" stroke-linecap="butt"/>
<text x="806.5" y="750.2" font-size="12" text-anchor="middle" font-weight="bold" font-style="normal" fill="#000" >O</text>
<text x="377.9" y="660.2" font-size="35.6" text-anchor="start" font-weight="bold" font-style="italic" fill="#ff0000" >m/z</text>
<text x="449.5" y="660.2" font-size="35.6" text-anchor="start" font-weight="bold" font-style="normal" fill="#ff0000" >660.51</text>
<text x="378.8" y="734.4" font-size="35.6" text-anchor="start" font-weight="bold" font-style="italic" fill="#ff0000" >m/z</text>
<text x="449.5" y="734.4" font-size="35.6" text-anchor="start" font-weight="bold" font-style="normal" fill="#ff0000" >676.51</text>
<text x="973.2" y="658.4" font-size="35.6" text-anchor="start" font-weight="bold" font-style="italic" fill="#6e87a9" >m/z</text>
<text x="1044.7" y="658.4" font-size="35.6" text-anchor="start" font-weight="bold" font-style="normal" fill="#6e87a9" >618.41</text>
<text x="977.6" y="739.6" font-size="35.6" text-anchor="start" font-weight="bold" font-style="italic" fill="#6e87a9" >m/z</text>
<text x="1049.1" y="739.6" font-size="35.6" text-anchor="start" font-weight="bold" font-style="normal" fill="#6e87a9" >634.41</text>
<line x1="201.8" y1="862.0" x2="201.8" y2="1142.3" stroke="#000" stroke-width="2.8" stroke-linecap="butt"/>
<line x1="189.3" y1="863.2" x2="203.2" y2="863.2" stroke="#000" stroke-width="2.8" stroke-linecap="butt"/>
<line x1="188.3" y1="997.0" x2="201.8" y2="997.0" stroke="#000" stroke-width="2.8" stroke-linecap="butt"/>
<line x1="189.3" y1="1130.8" x2="500.2" y2="1130.8" stroke="#000" stroke-width="2.8" stroke-linecap="butt"/>
<line x1="201.8" y1="1130.8" x2="201.8" y2="1142.3" stroke="#000" stroke-width="2.8" stroke-linecap="butt"/>
<line x1="320.8" y1="1130.8" x2="320.8" y2="1142.3" stroke="#000" stroke-width="2.8" stroke-linecap="butt"/>
<line x1="439.2" y1="1130.8" x2="439.2" y2="1142.3" stroke="#000" stroke-width="2.8" stroke-linecap="butt"/>
<line x1="498.8" y1="1129.4" x2="498.8" y2="1138.3" stroke="#000" stroke-width="2.8" stroke-linecap="butt"/>
<line x1="203.0" y1="1130.8" x2="497.0" y2="1130.8" stroke="#000" stroke-width="3.8" stroke-linecap="butt"/>
<line x1="203.0" y1="1129.2" x2="497.0" y2="1129.2" stroke="#000" stroke-width="1.4" stroke-linecap="butt"/>
<rect x="261.60" y="1117.10" width="3.40" height="12.90" rx="1.40" fill="#000"/>
<rect x="271.80" y="1096.90" width="2.80" height="33.10" rx="1.40" fill="#000"/>
<rect x="274.40" y="1110.90" width="1.90" height="19.10" rx="0.95" fill="#000"/>
<rect x="282.50" y="1116.00" width="2.70" height="14.00" rx="1.35" fill="#000"/>
<rect x="319.90" y="1122.10" width="2.70" height="7.90" rx="1.35" fill="#000"/>
<rect x="331.20" y="1115.40" width="2.20" height="14.60" rx="1.10" fill="#000"/>
<rect x="355.40" y="1062.60" width="3.00" height="67.40" rx="1.40" fill="#000"/>
<rect x="364.80" y="1026.00" width="3.20" height="104.00" rx="1.40" fill="#000"/>
<rect x="428.40" y="862.30" width="3.60" height="267.70" rx="1.40" fill="#000"/>
<rect x="439.20" y="1122.70" width="2.80" height="7.30" rx="1.40" fill="#000"/>
<rect x="239.50" y="1127.20" width="1.50" height="2.80" rx="0.75" fill="#000"/>
<text x="179.0" y="875.4" font-size="23" text-anchor="end" font-weight="bold" font-style="normal" fill="#000" >100</text>
<text x="177.5" y="1005.8" font-size="23" text-anchor="end" font-weight="bold" font-style="normal" fill="#000" >50</text>
<text x="174.5" y="1143.2" font-size="23" text-anchor="end" font-weight="bold" font-style="normal" fill="#000" >0</text>
<text x="200.6" y="1170.3" font-size="23" text-anchor="middle" font-weight="bold" font-style="normal" fill="#000" >400</text>
<text x="319.6" y="1170.3" font-size="23" text-anchor="middle" font-weight="bold" font-style="normal" fill="#000" >600</text>
<text x="438.2" y="1170.3" font-size="23" text-anchor="middle" font-weight="bold" font-style="normal" fill="#000" >800</text>
<text x="349.6" y="1198.3" font-size="21.5" text-anchor="middle" font-weight="bold" font-style="italic" fill="#000" >m/z</text>
<text x="134.0" y="997" font-size="23.2" font-weight="bold" text-anchor="middle" transform="rotate(-90 134.0 997)">Relative Abundance</text>
<text x="361.2" y="821.6" font-size="22.6" text-anchor="middle" font-weight="bold" font-style="normal" fill="#000" >10x</text>
<polyline points="350.0,837.5 350.0,827.0 374.4,827.0 374.4,837.5" fill="none" stroke="#000" stroke-width="3.0" stroke-linejoin="miter" stroke-linecap="butt" />
<text transform="translate(439.10 859.00) scale(0.955 1)" x="0" y="0" font-size="23.6" text-anchor="middle" font-weight="bold" fill="#000">784.59</text>
<text transform="translate(471.40 1113.80) scale(0.955 1)" x="0" y="0" font-size="23.6" text-anchor="middle" font-weight="bold" fill="#000">802.59</text>
<text transform="translate(374.00 1020.20) scale(0.955 1)" x="0" y="0" font-size="23.6" text-anchor="middle" font-weight="bold" fill="#000">676.51</text>
<text transform="translate(329.10 1058.90) scale(0.955 1)" x="0" y="0" font-size="23.6" text-anchor="middle" font-weight="bold" fill="#000">660.51</text>
<text transform="translate(284.90 1093.00) scale(0.955 1)" x="0" y="0" font-size="23.6" text-anchor="middle" font-weight="bold" fill="#000">520.34</text>
<polygon points="330.75,1026.20 332.22,1018.77 327.38,1018.77 328.86,1026.20" fill="#ff0000"/>
<circle cx="329.80" cy="1018.77" r="2.42" fill="#ff0000"/>
<polygon points="330.09,1025.30 323.48,1021.61 321.99,1026.20 329.51,1027.10" fill="#ff0000"/>
<circle cx="322.74" cy="1023.91" r="2.42" fill="#ff0000"/>
<polygon points="329.04,1025.64 323.48,1030.79 327.39,1033.63 330.56,1026.76" fill="#ff0000"/>
<circle cx="325.43" cy="1032.21" r="2.42" fill="#ff0000"/>
<polygon points="329.04,1026.76 332.21,1033.63 336.12,1030.79 330.56,1025.64" fill="#ff0000"/>
<circle cx="334.17" cy="1032.21" r="2.42" fill="#ff0000"/>
<polygon points="330.09,1027.10 337.61,1026.20 336.12,1021.61 329.51,1025.30" fill="#ff0000"/>
<circle cx="336.86" cy="1023.91" r="2.42" fill="#ff0000"/>
<polygon points="369.55,988.30 371.02,980.87 366.19,980.87 367.66,988.30" fill="#ff0000"/>
<circle cx="368.60" cy="980.87" r="2.42" fill="#ff0000"/>
<polygon points="368.89,987.40 362.28,983.71 360.79,988.30 368.31,989.20" fill="#ff0000"/>
<circle cx="361.54" cy="986.01" r="2.42" fill="#ff0000"/>
<polygon points="367.84,987.74 362.28,992.89 366.19,995.73 369.36,988.86" fill="#ff0000"/>
<circle cx="364.23" cy="994.31" r="2.42" fill="#ff0000"/>
<polygon points="367.84,988.86 371.01,995.73 374.92,992.89 369.36,987.74" fill="#ff0000"/>
<circle cx="372.97" cy="994.31" r="2.42" fill="#ff0000"/>
<polygon points="368.89,989.20 376.41,988.30 374.92,983.71 368.31,987.40" fill="#ff0000"/>
<circle cx="375.66" cy="986.01" r="2.42" fill="#ff0000"/>
<text x="514.1" y="901.0" font-size="27" text-anchor="middle" font-weight="bold" font-style="normal" fill="#000" >802</text>
<circle cx="514.1" cy="921.2" r="15.3" fill="#000"/>
<line x1="514.5" y1="921.2" x2="514.5" y2="957.2" stroke="#000" stroke-width="2.6" stroke-linecap="butt"/>
<polygon points="508.1,956.2 520.9,956.2 514.5,966.5" fill="#000"/>
<circle cx="514.5" cy="981.2" r="14.0" fill="#fff" stroke="#000" stroke-width="2.6"/>
<line x1="756.6" y1="860.0" x2="756.6" y2="1139.9" stroke="#000" stroke-width="2.8" stroke-linecap="butt"/>
<line x1="744.1" y1="861.2" x2="758.0" y2="861.2" stroke="#000" stroke-width="2.8" stroke-linecap="butt"/>
<line x1="743.1" y1="994.8" x2="756.6" y2="994.8" stroke="#000" stroke-width="2.8" stroke-linecap="butt"/>
<line x1="744.1" y1="1128.4" x2="1055.7" y2="1128.4" stroke="#000" stroke-width="2.8" stroke-linecap="butt"/>
<line x1="756.6" y1="1128.4" x2="756.6" y2="1139.9" stroke="#000" stroke-width="2.8" stroke-linecap="butt"/>
<line x1="874.6" y1="1128.4" x2="874.6" y2="1139.9" stroke="#000" stroke-width="2.8" stroke-linecap="butt"/>
<line x1="993.6" y1="1128.4" x2="993.6" y2="1139.9" stroke="#000" stroke-width="2.8" stroke-linecap="butt"/>
<line x1="1054.3" y1="1127.0" x2="1054.3" y2="1135.9" stroke="#000" stroke-width="2.8" stroke-linecap="butt"/>
<polygon points="757.0,1126.8 758.0,1127.1 759.0,1126.9 760.0,1127.0 761.0,1126.7 762.0,1127.2 763.0,1127.0 764.0,1126.8 765.0,1126.8 766.0,1126.7 767.0,1127.0 768.0,1127.0 769.0,1126.7 770.0,1126.9 771.0,1127.2 772.0,1127.1 773.0,1126.3 774.0,1127.1 775.0,1126.9 776.0,1126.8 777.0,1127.2 778.0,1127.1 779.0,1127.1 780.0,1127.2 781.0,1127.0 782.0,1126.0 783.0,1124.4 784.0,1125.3 785.0,1126.1 786.0,1126.9 787.0,1126.7 788.0,1127.1 789.0,1126.7 790.0,1127.2 791.0,1126.9 792.0,1127.1 793.0,1126.0 794.0,1127.2 795.0,1126.9 796.0,1126.7 797.0,1127.1 798.0,1127.0 799.0,1127.2 800.0,1127.1 801.0,1127.2 802.0,1126.8 803.0,1127.0 804.0,1126.9 805.0,1126.5 806.0,1127.0 807.0,1127.0 808.0,1127.2 809.0,1126.9 810.0,1127.0 811.0,1126.9 812.0,1127.2 813.0,1126.8 814.0,1127.0 815.0,1127.2 816.0,1126.9 817.0,1126.9 818.0,1127.0 819.0,1126.6 820.0,1127.1 821.0,1127.0 822.0,1127.0 823.0,1127.1 824.0,1127.1 825.0,1127.1 826.0,1127.0 827.0,1126.8 828.0,1127.1 829.0,1127.0 830.0,1126.7 831.0,1126.9 832.0,1126.8 833.0,1126.9 834.0,1127.0 835.0,1127.1 836.0,1126.9 837.0,1126.6 838.0,1127.1 839.0,1127.0 840.0,1126.5 841.0,1127.1 842.0,1126.9 843.0,1126.9 844.0,1126.8 845.0,1126.3 846.0,1126.6 847.0,1127.1 848.0,1126.9 849.0,1126.9 850.0,1126.3 851.0,1126.4 852.0,1126.4 853.0,1126.5 854.0,1126.9 855.0,1127.2 856.0,1126.7 857.0,1126.9 858.0,1126.9 859.0,1126.8 860.0,1127.1 861.0,1126.6 862.0,1126.9 863.0,1127.1 864.0,1127.0 865.0,1126.7 866.0,1126.8 867.0,1127.2 868.0,1127.0 869.0,1127.1 870.0,1126.4 871.0,1126.9 872.0,1126.4 873.0,1126.8 874.0,1126.9 875.0,1127.1 876.0,1127.1 877.0,1126.3 878.0,1123.7 879.0,1123.9 880.0,1126.6 881.0,1127.2 882.0,1126.5 883.0,1126.6 884.0,1122.3 885.0,1124.4 886.0,1126.6 887.0,1127.0 888.0,1127.1 889.0,1126.6 890.0,1127.0 891.0,1127.0 892.0,1127.0 893.0,1127.0 894.0,1127.1 895.0,1126.9 896.0,1127.2 897.0,1126.8 898.0,1123.2 899.0,1126.8 900.0,1126.9 901.0,1127.0 902.0,1127.1 903.0,1126.7 904.0,1126.6 905.0,1126.7 906.0,1127.1 907.0,1127.0 908.0,1126.8 909.0,1127.1 910.0,1127.1 911.0,1126.4 912.0,1127.1 913.0,1126.9 914.0,1126.3 915.0,1126.7 916.0,1127.1 917.0,1126.6 918.0,1127.1 919.0,1126.6 920.0,1126.0 921.0,1126.8 922.0,1127.0 923.0,1127.1 924.0,1126.5 925.0,1127.2 926.0,1126.7 927.0,1127.0 928.0,1126.5 929.0,1126.9 930.0,1126.8 931.0,1126.6 932.0,1126.8 933.0,1126.7 934.0,1126.9 935.0,1126.9 936.0,1126.9 937.0,1127.0 938.0,1127.0 939.0,1126.8 940.0,1127.0 941.0,1126.8 942.0,1127.0 943.0,1126.5 944.0,1127.2 945.0,1127.2 946.0,1126.9 947.0,1127.2 948.0,1126.7 949.0,1126.6 950.0,1127.0 951.0,1126.7 952.0,1126.9 953.0,1126.7 954.0,1127.1 955.0,1126.9 956.0,1127.2 957.0,1127.0 958.0,1126.4 959.0,1125.8 960.0,1125.7 961.0,1126.4 962.0,1126.8 963.0,1126.9 964.0,1126.7 965.0,1127.1 966.0,1127.0 967.0,1126.8 968.0,1126.9 969.0,1126.5 970.0,1126.9 971.0,1127.0 972.0,1126.7 973.0,1127.1 974.0,1126.8 975.0,1126.9 976.0,1126.5 977.0,1126.9 978.0,1127.0 979.0,1126.9 980.0,1127.0 981.0,1126.9 982.0,1126.9 983.0,1126.8 984.0,1126.6 985.0,1127.0 986.0,1126.4 987.0,1127.2 988.0,1127.0 989.0,1126.9 990.0,1127.1 991.0,1127.1 992.0,1126.8 993.0,1126.9 994.0,1126.9 995.0,1126.9 996.0,1126.6 997.0,1126.8 998.0,1127.1 999.0,1126.7 1000.0,1126.0 1001.0,1126.7 1002.0,1127.1 1003.0,1127.1 1004.0,1126.8 1005.0,1127.0 1006.0,1126.6 1007.0,1127.0 1008.0,1127.2 1009.0,1127.1 1010.0,1127.2 1011.0,1127.1 1012.0,1127.0 1013.0,1127.1 1014.0,1126.7 1015.0,1125.7 1016.0,1126.5 1017.0,1126.8 1018.0,1126.8 1019.0,1126.9 1020.0,1126.4 1021.0,1127.1 1022.0,1127.0 1023.0,1127.0 1024.0,1127.2 1025.0,1126.8 1026.0,1127.2 1027.0,1127.2 1028.0,1127.0 1029.0,1126.7 1030.0,1125.7 1031.0,1126.6 1032.0,1126.8 1033.0,1126.8 1034.0,1126.8 1035.0,1126.7 1036.0,1126.8 1037.0,1127.1 1038.0,1127.1 1039.0,1126.1 1040.0,1125.5 1041.0,1126.4 1042.0,1126.9 1043.0,1126.7 1044.0,1126.7 1045.0,1126.9 1046.0,1126.9 1047.0,1126.7 1048.0,1126.8 1049.0,1126.8 1050.0,1127.1 1051.0,1127.1 1052.0,1127.0 1053.0,1127.1 1053.0,1129.2 757.0,1129.2" fill="#000" stroke="#000" stroke-width="1.4" stroke-linejoin="round"/>
<rect x="792.90" y="859.70" width="3.80" height="268.30" rx="1.40" fill="#000"/>
<rect x="816.60" y="1040.10" width="3.30" height="87.90" rx="1.40" fill="#000"/>
<rect x="826.20" y="1111.80" width="1.80" height="16.20" rx="0.90" fill="#000"/>
<rect x="827.90" y="1057.60" width="3.10" height="70.40" rx="1.40" fill="#000"/>
<rect x="837.60" y="1118.80" width="2.60" height="9.20" rx="1.30" fill="#000"/>
<rect x="875.00" y="1094.60" width="2.80" height="33.40" rx="1.40" fill="#000"/>
<rect x="884.80" y="1096.50" width="1.40" height="31.50" rx="0.70" fill="#000"/>
<rect x="885.30" y="1072.10" width="3.40" height="55.90" rx="1.40" fill="#000"/>
<rect x="894.00" y="1091.50" width="3.20" height="36.50" rx="1.40" fill="#000"/>
<rect x="983.00" y="1000.00" width="3.40" height="128.00" rx="1.40" fill="#000"/>
<rect x="994.00" y="1117.50" width="2.80" height="10.50" rx="1.40" fill="#000"/>
<text x="734.2" y="873.4" font-size="23" text-anchor="end" font-weight="bold" font-style="normal" fill="#000" >100</text>
<text x="732.5" y="1003.5" font-size="23" text-anchor="end" font-weight="bold" font-style="normal" fill="#000" >50</text>
<text x="729.4" y="1140.4" font-size="23" text-anchor="end" font-weight="bold" font-style="normal" fill="#000" >0</text>
<text x="755.3" y="1169.6" font-size="23" text-anchor="middle" font-weight="bold" font-style="normal" fill="#000" >400</text>
<text x="874.4" y="1169.6" font-size="23" text-anchor="middle" font-weight="bold" font-style="normal" fill="#000" >600</text>
<text x="993.0" y="1169.6" font-size="23" text-anchor="middle" font-weight="bold" font-style="normal" fill="#000" >800</text>
<text x="904.0" y="1199.8" font-size="21.5" text-anchor="middle" font-weight="bold" font-style="italic" fill="#000" >m/z</text>
<text x="684.5" y="994.9" font-size="23.2" font-weight="bold" text-anchor="middle" transform="rotate(-90 684.5 994.9)">Relative Abundance</text>
<text x="889.4" y="819.0" font-size="22.6" text-anchor="middle" font-weight="bold" font-style="normal" fill="#000" >10x</text>
<polyline points="874.3,834.6 874.3,825.7 900.4,825.7 900.4,834.6" fill="none" stroke="#000" stroke-width="3.0" stroke-linejoin="miter" stroke-linecap="butt" />
<text x="792.0" y="854.2" font-size="20.5" text-anchor="middle" font-weight="bold" font-style="normal" fill="#000" >464.34</text>
<text x="830.6" y="1034.9" font-size="20.5" text-anchor="middle" font-weight="bold" font-style="normal" fill="#000" >504.34</text>
<text x="872.6" y="1054.2" font-size="20.5" text-anchor="middle" font-weight="bold" font-style="normal" fill="#000" >618.42</text>
<text x="923.2" y="1084.8" font-size="20.5" text-anchor="middle" font-weight="bold" font-style="normal" fill="#000" >634.42</text>
<text x="982.6" y="993.8" font-size="20.5" text-anchor="middle" font-weight="bold" font-style="normal" fill="#000" >784.59</text>
<text x="1021.4" y="1103.6" font-size="20.5" text-anchor="middle" font-weight="bold" font-style="normal" fill="#000" >802.59</text>
<polygon points="878.91,1025.80 880.17,1018.36 876.03,1018.36 877.29,1025.80" fill="#6e87a9"/>
<circle cx="878.10" cy="1018.36" r="2.07" fill="#6e87a9"/>
<polygon points="878.35,1025.03 871.67,1021.53 870.39,1025.47 877.85,1026.57" fill="#6e87a9"/>
<circle cx="871.03" cy="1023.50" r="2.07" fill="#6e87a9"/>
<polygon points="877.44,1025.32 872.05,1030.60 875.40,1033.03 878.76,1026.28" fill="#6e87a9"/>
<circle cx="873.73" cy="1031.82" r="2.07" fill="#6e87a9"/>
<polygon points="877.44,1026.28 880.80,1033.03 884.15,1030.60 878.76,1025.32" fill="#6e87a9"/>
<circle cx="882.47" cy="1031.82" r="2.07" fill="#6e87a9"/>
<polygon points="878.35,1026.57 885.81,1025.47 884.53,1021.53 877.85,1025.03" fill="#6e87a9"/>
<circle cx="885.17" cy="1023.50" r="2.07" fill="#6e87a9"/>
<polygon points="925.01,1057.00 926.27,1049.56 922.13,1049.56 923.39,1057.00" fill="#6e87a9"/>
<circle cx="924.20" cy="1049.56" r="2.07" fill="#6e87a9"/>
<polygon points="924.45,1056.23 917.77,1052.73 916.49,1056.67 923.95,1057.77" fill="#6e87a9"/>
<circle cx="917.13" cy="1054.70" r="2.07" fill="#6e87a9"/>
<polygon points="923.54,1056.52 918.15,1061.80 921.50,1064.23 924.86,1057.48" fill="#6e87a9"/>
<circle cx="919.83" cy="1063.02" r="2.07" fill="#6e87a9"/>
<polygon points="923.54,1057.48 926.90,1064.23 930.25,1061.80 924.86,1056.52" fill="#6e87a9"/>
<circle cx="928.57" cy="1063.02" r="2.07" fill="#6e87a9"/>
<polygon points="924.45,1057.77 931.91,1056.67 930.63,1052.73 923.95,1056.23" fill="#6e87a9"/>
<circle cx="931.27" cy="1054.70" r="2.07" fill="#6e87a9"/>
<line x1="866.9" y1="1062.5" x2="877.0" y2="1084.0" stroke="#000" stroke-width="2.8" stroke-linecap="butt"/>
<polygon points="870.9,1085.6 881.9,1080.6 882.3,1094.2" fill="#000"/>
<text x="1047.9" y="895.2" font-size="27" text-anchor="middle" font-weight="bold" font-style="normal" fill="#000" >802</text>
<circle cx="1047.9" cy="914.8" r="15.5" fill="#000"/>
<line x1="1048.3" y1="914.8" x2="1048.3" y2="950.8" stroke="#000" stroke-width="2.6" stroke-linecap="butt"/>
<polygon points="1041.9,949.8 1054.7,949.8 1048.3,959.3" fill="#000"/>
<circle cx="1048.3" cy="974.3" r="14.2" fill="#fff" stroke="#000" stroke-width="2.6"/>
</svg></body></html>
